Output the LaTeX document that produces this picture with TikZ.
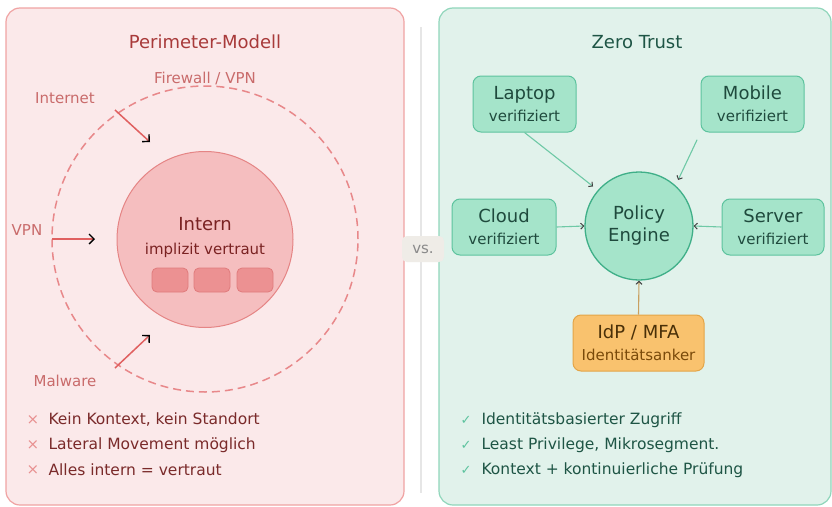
\documentclass[tikz,border=0pt]{standalone}
\usepackage{fontspec}
\setmainfont{DejaVu Sans}
\usetikzlibrary{arrows.meta}
\definecolor{lpfill}{HTML}{FBE9EA}
\definecolor{lpdraw}{HTML}{F0A3A3}
\definecolor{ltitle}{HTML}{A83A3A}
\definecolor{llabel}{HTML}{C96B6B}
\definecolor{ldash}{HTML}{E8888A}
\definecolor{infill}{HTML}{F5BEBF}
\definecolor{indraw}{HTML}{E58585}
\definecolor{slotfill}{HTML}{EC9192}
\definecolor{slotdraw}{HTML}{E07B7C}
\definecolor{intext}{HTML}{7A2222}
\definecolor{larrow}{HTML}{E06060}
\definecolor{lbullet}{HTML}{7A2A2A}
\definecolor{lcross}{HTML}{E89090}
\definecolor{rpfill}{HTML}{E1F2EB}
\definecolor{rpdraw}{HTML}{90D6BB}
\definecolor{rtitle}{HTML}{1E5545}
\definecolor{nfill}{HTML}{A5E4CA}
\definecolor{ndraw}{HTML}{5DC39E}
\definecolor{ntext}{HTML}{1F4A3D}
\definecolor{pedraw}{HTML}{3FAF88}
\definecolor{rarrow}{HTML}{6FC9A6}
\definecolor{idpfill}{HTML}{F9C26E}
\definecolor{idpdraw}{HTML}{E3A548}
\definecolor{idptext}{HTML}{4A3008}
\definecolor{idpsub}{HTML}{7A4A0A}
\definecolor{idparrow}{HTML}{C9A060}
\definecolor{vsfill}{HTML}{EFECE7}
\definecolor{vstext}{HTML}{8A8A8A}
\definecolor{divider}{HTML}{E6E6E6}
\tikzset{
  panelL/.style={fill=lpfill, draw=lpdraw, line width=1.2pt, rounded corners=14pt},
  panelR/.style={fill=rpfill, draw=rpdraw, line width=1.2pt, rounded corners=14pt},
  titleL/.style={text=ltitle, font=\fontsize{18}{22}\selectfont},
  titleR/.style={text=rtitle, font=\fontsize{18}{22}\selectfont},
  lbl/.style={text=llabel, font=\fontsize{15}{18}\selectfont},
  perim/.style={circle, draw=ldash, line width=1.5pt, dash pattern=on 8pt off 5pt, minimum size=306pt, inner sep=0pt},
  innercirc/.style={circle, fill=infill, draw=indraw, line width=1pt, minimum size=176pt, inner sep=0pt},
  slot/.style={rectangle, rounded corners=5pt, fill=slotfill, draw=slotdraw, line width=0.8pt, minimum width=36pt, minimum height=24pt, inner sep=0pt},
  larr/.style={draw=larrow, line width=1.5pt, -{Straight Barb[length=5pt, width=10pt, color=black, line width=1.4pt]}},
  crossmark/.style={text=lcross, font=\fontsize{15}{18}\selectfont},
  lbul/.style={text=lbullet, font=\fontsize{15.5}{18}\selectfont, anchor=west},
  zbox/.style={rectangle, rounded corners=8pt, fill=nfill, draw=ndraw, line width=1pt, minimum height=56pt, inner sep=0pt, align=center, text=ntext, font=\fontsize{15}{22}\selectfont},
  pecirc/.style={circle, fill=nfill, draw=pedraw, line width=1.3pt, minimum size=108pt, inner sep=0pt, align=center, text=ntext, font=\fontsize{18}{22}\selectfont},
  idpbox/.style={rectangle, rounded corners=8pt, fill=idpfill, draw=idpdraw, line width=1pt, minimum width=131pt, minimum height=56pt, inner sep=0pt, align=center, text=idpsub, font=\fontsize{15}{22}\selectfont},
  rarr/.style={draw=rarrow, line width=1.1pt, -{Straight Barb[length=3pt, width=6pt, color=black!75, line width=1pt]}},
  chk/.style={text=ndraw, font=\fontsize{13}{16}\selectfont},
  rbul/.style={text=rtitle, font=\fontsize{15.5}{18}\selectfont, anchor=west},
  vsbox/.style={rectangle, rounded corners=5pt, fill=vsfill, minimum width=42pt, minimum height=26pt, inner sep=0pt, text=vstext, font=\fontsize{15}{18}\selectfont},
}
\begin{document}
\begin{tikzpicture}[x=1pt, y=-1pt]
\useasboundingbox (0,0) rectangle (832,506);
\fill[white] (0,0) rectangle (832,506);
% panels
\draw[panelL] (6,8) rectangle (404,505);
\draw[panelR] (439,8) rectangle (831,505);
\draw[draw=divider, line width=2pt] (421,27) -- (421,493);
% ---------------- left: perimeter model
\node[titleL] (ptitle) at (205,42) {Perimeter-Modell};
\node[lbl] (fw) at (205,78) {Firewall / VPN};
\node[perim] (perimeter) at (205,239) {};
\node[innercirc] (intern) at (205,239.5) {};
\node[align=center, text=intext, font=\fontsize{18}{24}\selectfont] (interntext) at (205,237)
  {Intern\\{\fontsize{15}{24}\selectfont implizit vertraut}};
\node[slot] (s1) at (170,280) {};
\node[slot] (s2) at (212,280) {};
\node[slot] (s3) at (255,280) {};
\node[lbl] (internet) at (65,98) {Internet};
\node[lbl] (vpn) at (27,230) {VPN};
\node[lbl] (malware) at (65,381) {Malware};
\coordinate (inA) at (115,110);
\coordinate (inB) at (150,142);
\coordinate (vpA) at (52,239);
\coordinate (vpB) at (95,239);
\coordinate (mwA) at (115,368);
\coordinate (mwB) at (150,335);
\draw[larr] (inA) -- (inB);
\draw[larr] (vpA) -- (vpB);
\draw[larr] (mwA) -- (mwB);
\node[crossmark] (x1) at (33,420) {×};
\node[crossmark] (x2) at (33,445) {×};
\node[crossmark] (x3) at (33,470) {×};
\node[lbul] (b1) at (45,420) {Kein Kontext, kein Standort};
\node[lbul] (b2) at (45,445) {Lateral Movement möglich};
\node[lbul] (b3) at (45,470) {Alles intern = vertraut};
% ---------------- right: zero trust
\node[titleR] (ztitle) at (637,42) {Zero Trust};
\node[zbox, minimum width=103pt] (laptop) at (524.5,104) {{\fontsize{18}{22}\selectfont Laptop}\\verifiziert};
\node[zbox, minimum width=103pt] (mobile) at (752.5,104) {{\fontsize{18}{22}\selectfont Mobile}\\verifiziert};
\node[zbox, minimum width=104pt] (cloud) at (504,227) {{\fontsize{18}{22}\selectfont Cloud}\\verifiziert};
\node[zbox, minimum width=102pt] (server) at (773,227) {{\fontsize{18}{22}\selectfont Server}\\verifiziert};
\node[pecirc] (pe) at (639,226) {Policy\\Engine};
\node[idpbox] (idp) at (638.5,343) {{\fontsize{18}{22}\selectfont\color{idptext} IdP / MFA}\\Identitätsanker};
\draw[rarr, shorten >=6pt] (laptop.south) -- (pe.139);
\draw[rarr, shorten <=8pt, shorten >=6pt] (mobile.south west) -- (pe.48);
\draw[rarr] (cloud.east) -- (pe.west);
\draw[rarr] (server.west) -- (pe.east);
\draw[rarr, draw=idparrow] (idp.north) -- (pe.south);
\node[chk] (c1) at (466,420) {✓};
\node[chk] (c2) at (466,445) {✓};
\node[chk] (c3) at (466,470) {✓};
\node[rbul] (r1) at (478,420) {Identitätsbasierter Zugriff};
\node[rbul] (r2) at (478,445) {Least Privilege, Mikrosegment.};
\node[rbul] (r3) at (478,470) {Kontext + kontinuierliche Prüfung};
% vs
\node[vsbox] (vs) at (423,249) {vs.};
\end{tikzpicture}
\end{document}
